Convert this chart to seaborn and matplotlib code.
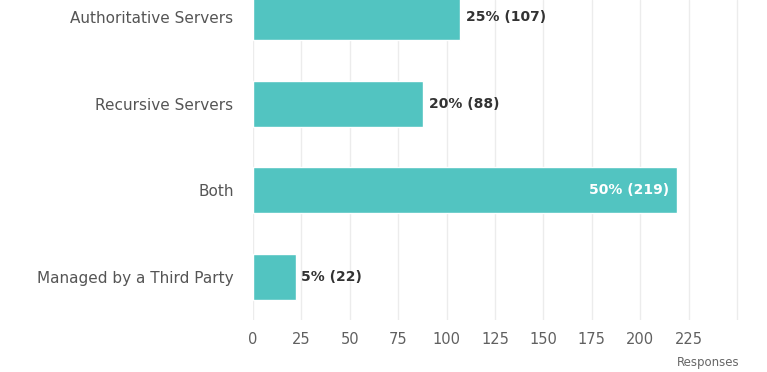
import matplotlib
matplotlib.use("Agg")
import matplotlib.pyplot as plt
import seaborn as sns
import pandas as pd

categories = ["Authoritative Servers", "Recursive Servers", "Both", "Managed by a Third Party"]
responses = [107, 88, 219, 22]
percents = ["25%", "20%", "50%", "5%"]
x_ticks = [0, 25, 50, 75, 100, 125, 150, 175, 200, 225]

df = pd.DataFrame({"category": categories, "responses": responses})

sns.set_theme(style="white")
plt.rcParams["font.family"] = ["DejaVu Sans"]

fig = plt.figure(figsize=(7.67, 3.72), dpi=100)
ax = fig.add_axes([253 / 767, 52 / 372, 487 / 767, 320 / 372])

sns.barplot(data=df, x="responses", y="category", orient="h", color="#52c4c1",
            saturation=1, width=0.53, ax=ax, zorder=3)

ax.set_xlim(0, 251.5)
ax.set_ylim(3.5, -0.2)
ax.set_xticks(x_ticks + [250])
ax.set_xticklabels([str(t) for t in x_ticks] + [""])
ax.xaxis.grid(True, color="#ececec", linewidth=1, zorder=0)
ax.yaxis.grid(False)
for s in ax.spines.values():
    s.set_visible(False)
ax.tick_params(axis="x", length=0, pad=9, labelsize=10.5, labelcolor="#606060")
ax.tick_params(axis="y", length=0, pad=14, labelsize=11, labelcolor="#555555")
ax.set_ylabel("")
ax.set_xlabel("Responses", fontsize=8.5, color="#666666", loc="right", labelpad=6)

for i, (v, p) in enumerate(zip(responses, percents)):
    label = f"{p} ({v})"
    if v > 200:
        ax.text(v - 4, i, label, ha="right", va="center", color="white",
                fontsize=10, fontweight="bold", zorder=4)
    else:
        ax.text(v + 3, i, label, ha="left", va="center", color="#333333",
                fontsize=10, fontweight="bold", zorder=4)

fig.savefig("out.png", dpi=100)
